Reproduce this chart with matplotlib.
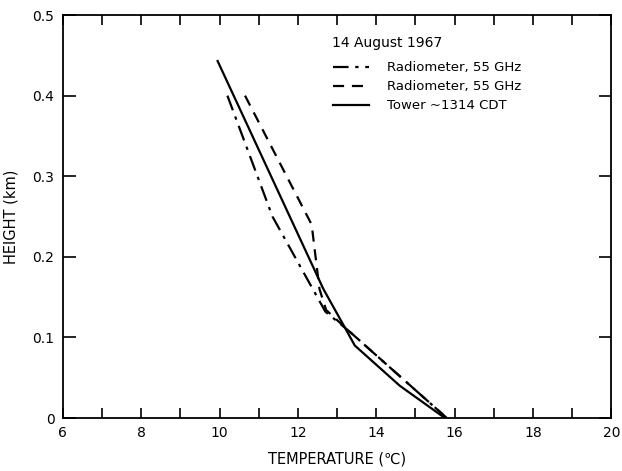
import matplotlib
matplotlib.use("Agg")
import matplotlib.pyplot as plt
from matplotlib.ticker import MultipleLocator

# Data
radio1_temp = [10.2, 11.35, 12.7, 13.3, 15.8]
radio1_height = [0.400, 0.250, 0.132, 0.108, 0.0]

radio2_temp = [10.65, 12.35, 12.55, 12.72, 13.3, 15.8]
radio2_height = [0.400, 0.240, 0.160, 0.134, 0.108, 0.0]

tower_temp = [9.95, 12.65, 13.2, 13.45, 14.6, 15.75]
tower_height = [0.443, 0.160, 0.112, 0.090, 0.040, 0.0]

xticks = [6, 8, 10, 12, 14, 16, 18, 20]
yticks = [0.0, 0.1, 0.2, 0.3, 0.4, 0.5]
ytick_labels = ["0", "0.1", "0.2", "0.3", "0.4", "0.5"]

plt.rcParams['font.family'] = ['DejaVu Sans']

fig = plt.figure(figsize=(6.22, 4.71), dpi=100)
ax = fig.add_axes([0.101, 0.1125, 0.882, 0.8555])

lw = 1.6
ax.plot(radio1_temp, radio1_height, color='black', lw=lw,
        dashes=(7, 3, 1.5, 3), label='Radiometer, 55 GHz')
ax.plot(radio2_temp, radio2_height, color='black', lw=lw,
        dashes=(5, 3.5), label='Radiometer, 55 GHz')
ax.plot(tower_temp, tower_height, color='black', lw=lw,
        label='Tower ~1314 CDT')

ax.set_xlim(6, 20)
ax.set_ylim(0, 0.5)
ax.set_xticks(xticks)
ax.set_xticklabels([str(t) for t in xticks])
ax.xaxis.set_minor_locator(MultipleLocator(1))
ax.set_yticks(yticks)
ax.set_yticklabels(ytick_labels)

ax.tick_params(axis='both', which='both', direction='in', top=True, right=True,
               labelsize=10, width=1.2, color='black')
ax.tick_params(axis='x', which='both', length=7, pad=6)
ax.tick_params(axis='y', which='major', length=9, pad=6)

for s in ax.spines.values():
    s.set_linewidth(1.3)

ax.set_xlabel('TEMPERATURE (\u2103)', fontsize=10.5, labelpad=8)
ax.set_ylabel('HEIGHT (km)', fontsize=10.5, labelpad=10)

ax.text(0.49, 0.93, '14 August 1967', transform=ax.transAxes,
        fontsize=10, ha='left', va='center')
leg = ax.legend(loc='upper left', bbox_to_anchor=(0.493, 0.885), frameon=False,
                fontsize=9.5, handlelength=2.7, handletextpad=1.4,
                labelspacing=0.45, borderpad=0, borderaxespad=0)

fig.savefig('out.png', dpi=100)
